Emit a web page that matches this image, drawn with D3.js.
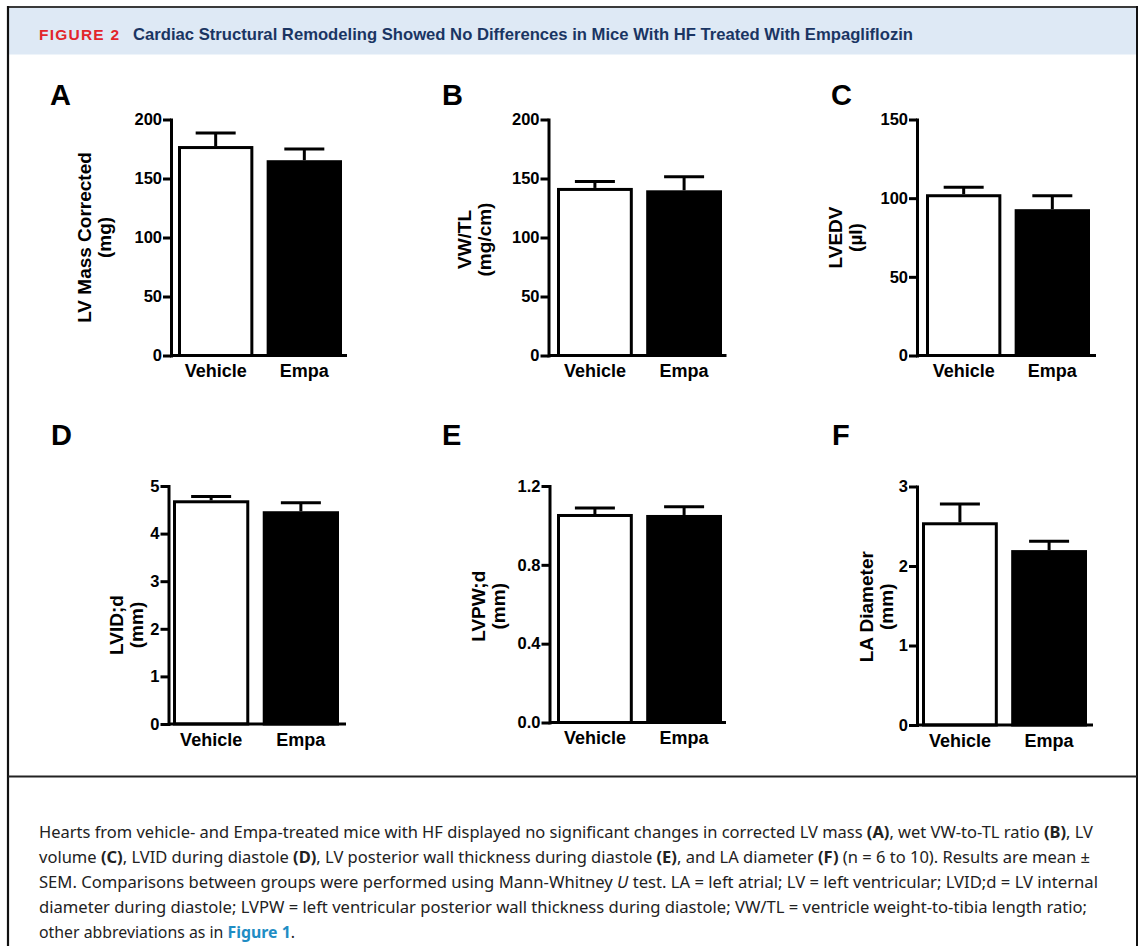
<!DOCTYPE html>
<html><head><meta charset="utf-8">
<script src="https://cdn.jsdelivr.net/npm/d3@7"></script>
<style>html,body{margin:0;padding:0;background:#fff;} svg{display:block;}</style>
</head><body>
<svg id="fig" width="1142" height="946"></svg>
<script>
// ---------- DATA ----------
const groups = ["Vehicle", "Empa"];
const panelLetters = ["A", "B", "C", "D", "E", "F"];
const yTitles = [["LV Mass Corrected", "(mg)"], ["VW/TL", "(mg/cm)"], ["LVEDV", "(µl)"],
                 ["LVID;d", "(mm)"], ["LVPW;d", "(mm)"], ["LA Diameter", "(mm)"]];
const means = [[177.5, 165.5], [142, 140], [102.5, 93], [4.70, 4.47], [1.058, 1.053], [2.55, 2.20]];
const sems  = [[11, 9.5], [5.5, 11.5], [4.5, 8.5], [0.08, 0.18], [0.03, 0.042], [0.23, 0.11]];
const yMax = [200, 200, 150, 5, 1.2, 3];
const yTicks = [[0, 50, 100, 150, 200], [0, 50, 100, 150, 200], [0, 50, 100, 150],
                [0, 1, 2, 3, 4, 5], [0, 0.4, 0.8, 1.2], [0, 1, 2, 3]];
const tickFormats = ["d", "d", "d", "d", ".1f", "d"];
const figureLabel = "FIGURE 2";
const figureTitle = "Cardiac Structural Remodeling Showed No Differences in Mice With HF Treated With Empagliflozin";
const captionLines = [
  [["Hearts from vehicle- and Empa-treated mice with HF displayed no significant changes in corrected LV mass ", ""], ["(A)", "b"], [", wet VW-to-TL ratio ", ""], ["(B)", "b"], [", LV", ""]],
  [["volume ", ""], ["(C)", "b"], [", LVID during diastole ", ""], ["(D)", "b"], [", LV posterior wall thickness during diastole ", ""], ["(E)", "b"], [", and LA diameter ", ""], ["(F)", "b"], [" (n = 6 to 10). Results are mean \u00b1", ""]],
  [["SEM. Comparisons between groups were performed using Mann-Whitney ", ""], ["U", "i"], [" test. LA = left atrial; LV = left ventricular; LVID;d = LV internal", ""]],
  [["diameter during diastole; LVPW = left ventricular posterior wall thickness during diastole; VW/TL = ventricle weight-to-tibia length ratio;", ""]],
  [["other abbreviations as in ", ""], ["Figure 1", "link"], [".", ""]]
];

// ---------- LAYOUT ----------
const FONT = "'Liberation Sans', Arial, Helvetica, sans-serif";
const layout = [
  {x0: 171,   x1: 347,  top: 119.5, bottom: 355.5, padL: 7,   padR: 5,   lx: 50,  ly: 105, t1: -87, tyc: 0},
  {x0: 548.5, x1: 726.5, top: 119.5, bottom: 355.5, padL: 8.5, padR: 4.5, lx: 442, ly: 105, t1: -85, tyc: 2},
  {x0: 917,   x1: 1096, top: 119.5, bottom: 355.5, padL: 9,   padR: 6,   lx: 831, ly: 105, t1: -82, tyc: 0},
  {x0: 168.5, x1: 346,  top: 486,   bottom: 724,   padL: 4.5, padR: 7,   lx: 51,  ly: 445, t1: -52.5, tyc: 20},
  {x0: 549.5, x1: 726,  top: 486,   bottom: 722.5, padL: 7.5, padR: 4,   lx: 442, ly: 445, t1: -72, tyc: 2},
  {x0: 917,   x1: 1093, top: 486.5, bottom: 725,   padL: 5,   padR: 6,   lx: 832, ly: 445, t1: -51, tyc: 1}
];

const svg = d3.select("#fig");

// ---------- FRAME / HEADER ----------
svg.append("rect").attr("x", 8).attr("y", 8).attr("width", 1129).attr("height", 46.5).attr("fill", "#dee9f5");
svg.append("line").attr("x1", 7).attr("x2", 1138).attr("y1", 7).attr("y2", 7).attr("stroke", "#3a3a3a").attr("stroke-width", 2);
svg.append("line").attr("x1", 8).attr("x2", 8).attr("y1", 6).attr("y2", 946).attr("stroke", "#111").attr("stroke-width", 2.2);
svg.append("line").attr("x1", 1137).attr("x2", 1137).attr("y1", 6).attr("y2", 946).attr("stroke", "#111").attr("stroke-width", 2);
svg.append("line").attr("x1", 8).attr("x2", 1137).attr("y1", 776.5).attr("y2", 776.5).attr("stroke", "#222").attr("stroke-width", 2);

svg.append("text").attr("x", 39).attr("y", 39.5)
  .attr("font-family", FONT).attr("font-weight", "bold").attr("font-size", 15.5)
  .attr("fill", "#e2252b").attr("textLength", 80).attr("lengthAdjust", "spacing")
  .text(figureLabel);
svg.append("text").attr("x", 133).attr("y", 39.5)
  .attr("font-family", "'Liberation Sans Narrow', " + FONT).attr("font-weight", "bold").attr("font-size", 17)
  .attr("fill", "#1a3563").attr("textLength", 780).attr("lengthAdjust", "spacingAndGlyphs")
  .text(figureTitle);

// ---------- PANELS ----------
layout.forEach((L, i) => {
  const g = svg.append("g");
  const y = d3.scaleLinear().domain([0, yMax[i]]).range([L.bottom, L.top]);
  const x = d3.scaleBand().domain(groups).range([L.x0 + L.padL, L.x1 - L.padR]).paddingInner(0.15);
  const rows = groups.map((grp, j) => ({grp, j, m: means[i][j], s: sems[i][j]}));

  // error bars (up only)
  g.selectAll("line.err").data(rows).join("line").attr("class", "err")
    .attr("x1", d => x(d.grp) + x.bandwidth() / 2).attr("x2", d => x(d.grp) + x.bandwidth() / 2)
    .attr("y1", d => y(d.m)).attr("y2", d => y(d.m + d.s))
    .attr("stroke", "#000").attr("stroke-width", 3);
  g.selectAll("line.cap").data(rows).join("line").attr("class", "cap")
    .attr("x1", d => x(d.grp) + x.bandwidth() / 2 - 20).attr("x2", d => x(d.grp) + x.bandwidth() / 2 + 20)
    .attr("y1", d => y(d.m + d.s)).attr("y2", d => y(d.m + d.s))
    .attr("stroke", "#000").attr("stroke-width", 3);

  // bars
  g.selectAll("rect.bar").data(rows).join("rect").attr("class", "bar")
    .attr("x", d => x(d.grp) + 1.5).attr("width", x.bandwidth() - 3)
    .attr("y", d => y(d.m) + 1.5).attr("height", d => y(0) - y(d.m) - 1.5)
    .attr("fill", d => d.j === 0 ? "#fff" : "#000")
    .attr("stroke", "#000").attr("stroke-width", 3);

  // y axis
  const ya = d3.axisLeft(y).tickValues(yTicks[i]).tickFormat(d3.format(tickFormats[i]))
    .tickSize(8).tickPadding(1).tickSizeOuter(0);
  const yg = g.append("g").attr("transform", `translate(${L.x0},0)`).call(ya);
  yg.select(".domain").attr("stroke-width", 3).attr("stroke-linecap", "square");
  yg.selectAll(".tick line").attr("stroke-width", 3);
  yg.selectAll(".tick text").attr("font-size", 16.5).attr("font-weight", "bold")
    .attr("font-family", FONT).attr("fill", "#000");

  // x axis line
  g.append("line").attr("x1", L.x0).attr("x2", L.x1).attr("y1", y(0)).attr("y2", y(0))
    .attr("stroke", "#000").attr("stroke-width", 3);

  // category labels
  const xa = d3.axisBottom(x).tickSize(0).tickPadding(9);
  const xg = g.append("g").attr("transform", `translate(0,${y(0)})`).call(xa);
  xg.select(".domain").remove();
  xg.selectAll(".tick text").attr("font-size", 18).attr("font-weight", "bold")
    .attr("font-family", FONT).attr("fill", "#000");

  // y title
  const cy = (L.top + L.bottom) / 2 + L.tyc;
  const tt = g.append("text")
    .attr("transform", `translate(${L.x0 + L.t1 + 7},${cy}) rotate(-90)`)
    .attr("text-anchor", "middle").attr("font-family", FONT)
    .attr("font-size", 19).attr("font-weight", "bold").attr("fill", "#000");
  tt.append("tspan").attr("x", 0).attr("y", 0).text(yTitles[i][0]);
  tt.append("tspan").attr("x", 0).attr("y", 20).text(yTitles[i][1]);

  // panel letter
  g.append("text").attr("x", L.lx).attr("y", L.ly).attr("font-family", FONT)
    .attr("font-size", 29).attr("font-weight", "bold").attr("fill", "#000").text(panelLetters[i]);
});

// ---------- CAPTION ----------
const capLen = [1054, 1051, 1059, 1048, 256];
captionLines.forEach((segs, k) => {
  const t = svg.append("text").attr("x", 39).attr("y", 838 + 25 * k)
    .attr("font-family", "'Noto Sans', 'Open Sans', sans-serif").attr("font-size", 16).attr("fill", "#222")
    .attr("textLength", capLen[k]).attr("lengthAdjust", "spacingAndGlyphs");
  segs.forEach(([s, st]) => {
    const ts = t.append("tspan").text(s);
    if (st === "b" || st === "link") ts.attr("font-weight", "bold");
    if (st === "i") ts.attr("font-style", "italic");
    if (st === "link") ts.attr("fill", "#1f8dc4");
  });
});
</script>
</body></html>
